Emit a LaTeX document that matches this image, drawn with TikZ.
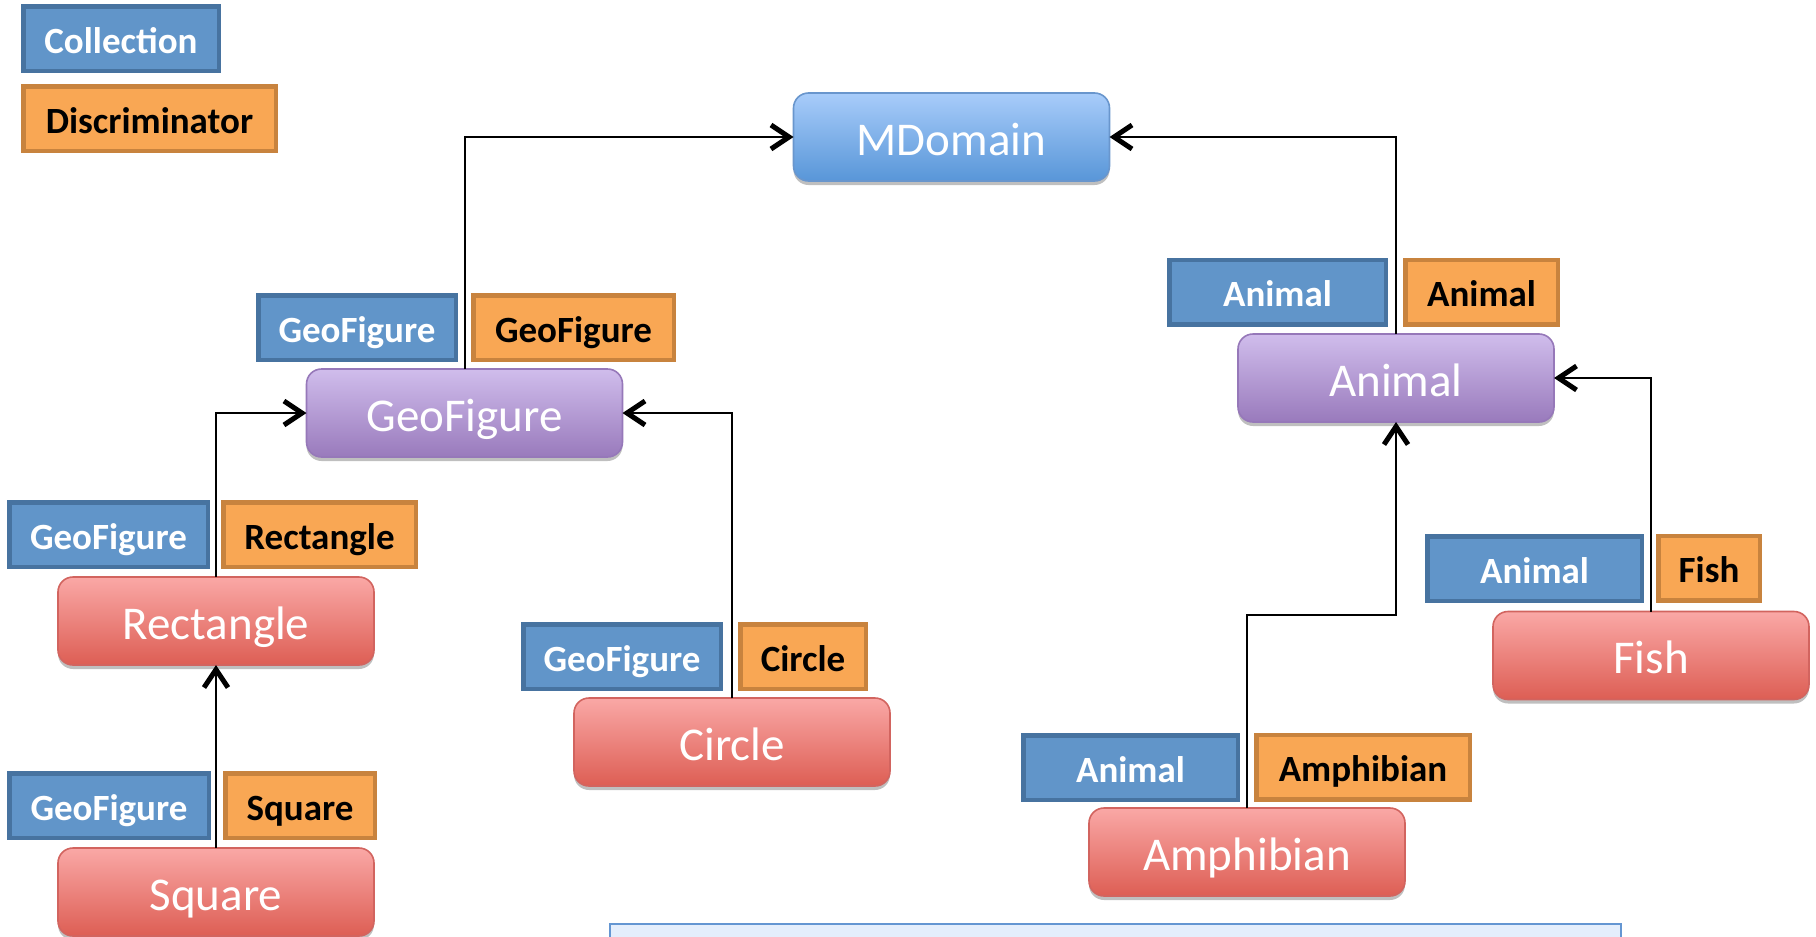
\documentclass[tikz,border=0pt]{standalone}
\usepackage{fontspec}
\setmainfont{Carlito}
\usetikzlibrary{arrows.meta,shadows}
\definecolor{lbfill}{RGB}{97,149,201}
\definecolor{lbdraw}{RGB}{71,115,160}
\definecolor{lofill}{RGB}{249,167,84}
\definecolor{lodraw}{RGB}{200,131,62}
\definecolor{mdtop}{RGB}{168,204,250}
\definecolor{mdbot}{RGB}{88,150,216}
\definecolor{mddraw}{RGB}{105,150,205}
\definecolor{putop}{RGB}{208,189,236}
\definecolor{pubot}{RGB}{153,122,188}
\definecolor{pudraw}{RGB}{150,120,185}
\definecolor{retop}{RGB}{250,168,166}
\definecolor{rebot}{RGB}{221,94,84}
\definecolor{redraw}{RGB}{210,100,95}
\definecolor{notefill}{RGB}{228,238,252}
\definecolor{notedraw}{RGB}{100,150,210}
\tikzset{
  lbl/.style={line width=4.5pt, outer sep=0pt, inner sep=0pt, minimum height=64.5pt,
    font=\fontsize{37}{44}\selectfont\bfseries, text height=29pt, text depth=0pt},
  bluelbl/.style={lbl, draw=lbdraw, fill=lbfill, text=white},
  orangelbl/.style={lbl, draw=lodraw, fill=lofill, text=black},
  mainbox/.style={rounded corners=15pt, line width=1.6pt, outer sep=0pt, inner sep=0pt,
    minimum width=316pt, minimum height=88pt, text=white,
    font=\fontsize{47}{56}\selectfont, text height=36pt, text depth=0pt,
    drop shadow={shadow xshift=0pt, shadow yshift=-4pt, opacity=0.25, fill=black}},
  mdbox/.style={mainbox, draw=mddraw, top color=mdtop, bottom color=mdbot},
  pubox/.style={mainbox, draw=pudraw, top color=putop, bottom color=pubot},
  rebox/.style={mainbox, draw=redraw, top color=retop, bottom color=rebot},
  conn/.style={line width=2pt, -{Straight Barb[length=18pt, width=24pt, line width=5pt]}}
}
\begin{document}
\begin{tikzpicture}[x=1pt, y=-1pt]
\useasboundingbox (0,0) rectangle (1816,937);
\clip (0,0) rectangle (1816,937);
% legend
\node[bluelbl, minimum width=195.5pt] (legc) at (121,38.5) {Collection};
\node[orangelbl, minimum width=252.5pt] (legd) at (149.5,118.5) {Discriminator};
% main nodes
\node[mdbox] (md) at (951.5,137) {MDomain};
\node[pubox] (geo) at (464.5,413) {GeoFigure};
\node[pubox] (ani) at (1396,378) {Animal};
\node[rebox] (rect) at (216,621) {Rectangle};
\node[rebox] (sq) at (216,892) {Square};
\node[rebox] (circ) at (732,742) {Circle};
\node[rebox] (fish) at (1651,655.5) {Fish};
\node[rebox] (amph) at (1247,852) {Amphibian};
% labels
\node[bluelbl, minimum width=197.5pt] (geoc) at (357,327.5) {GeoFigure};
\node[orangelbl, minimum width=200.5pt] (geod) at (573.5,327.5) {GeoFigure};
\node[bluelbl, minimum width=216.5pt] (anic) at (1277.5,292) {Animal};
\node[orangelbl, minimum width=152.5pt] (anid) at (1481.5,292) {Animal};
\node[bluelbl, minimum width=198.5pt] (rectc) at (108.5,534.5) {GeoFigure};
\node[orangelbl, minimum width=192.5pt] (rectd) at (319.5,534.5) {Rectangle};
\node[bluelbl, minimum width=199.5pt] (sqc) at (109,805.5) {GeoFigure};
\node[orangelbl, minimum width=149.5pt] (sqd) at (300,805.5) {Square};
\node[bluelbl, minimum width=197.5pt] (circc) at (622,656.5) {GeoFigure};
\node[orangelbl, minimum width=125.5pt] (circd) at (803,656.5) {Circle};
\node[bluelbl, minimum width=214.5pt] (fishc) at (1534.5,568.5) {Animal};
\node[orangelbl, minimum width=101.5pt] (fishd) at (1709,568) {Fish};
\node[bluelbl, minimum width=214.5pt] (amphc) at (1130.5,767.5) {Animal};
\node[orangelbl, minimum width=213.5pt] (amphd) at (1363,767) {Amphibian};
% connectors
\draw[conn] (geo.north) |- (md.west);
\draw[conn] (ani.north) |- (md.east);
\draw[conn] (rect.north) |- (geo.west);
\draw[conn] (circ.north) |- (geo.east);
\draw[conn] (sq.north) -- (rect.south);
\draw[conn] (fish.north) |- (ani.east);
\coordinate (amphbend) at (1247,615);
\draw[conn] (amph.north) -- (amphbend) -| (ani.south);
% note box (cut off at bottom)
\draw[draw=notedraw, fill=notefill, line width=2.5pt] (610,924) rectangle (1621,960);
\end{tikzpicture}
\end{document}
